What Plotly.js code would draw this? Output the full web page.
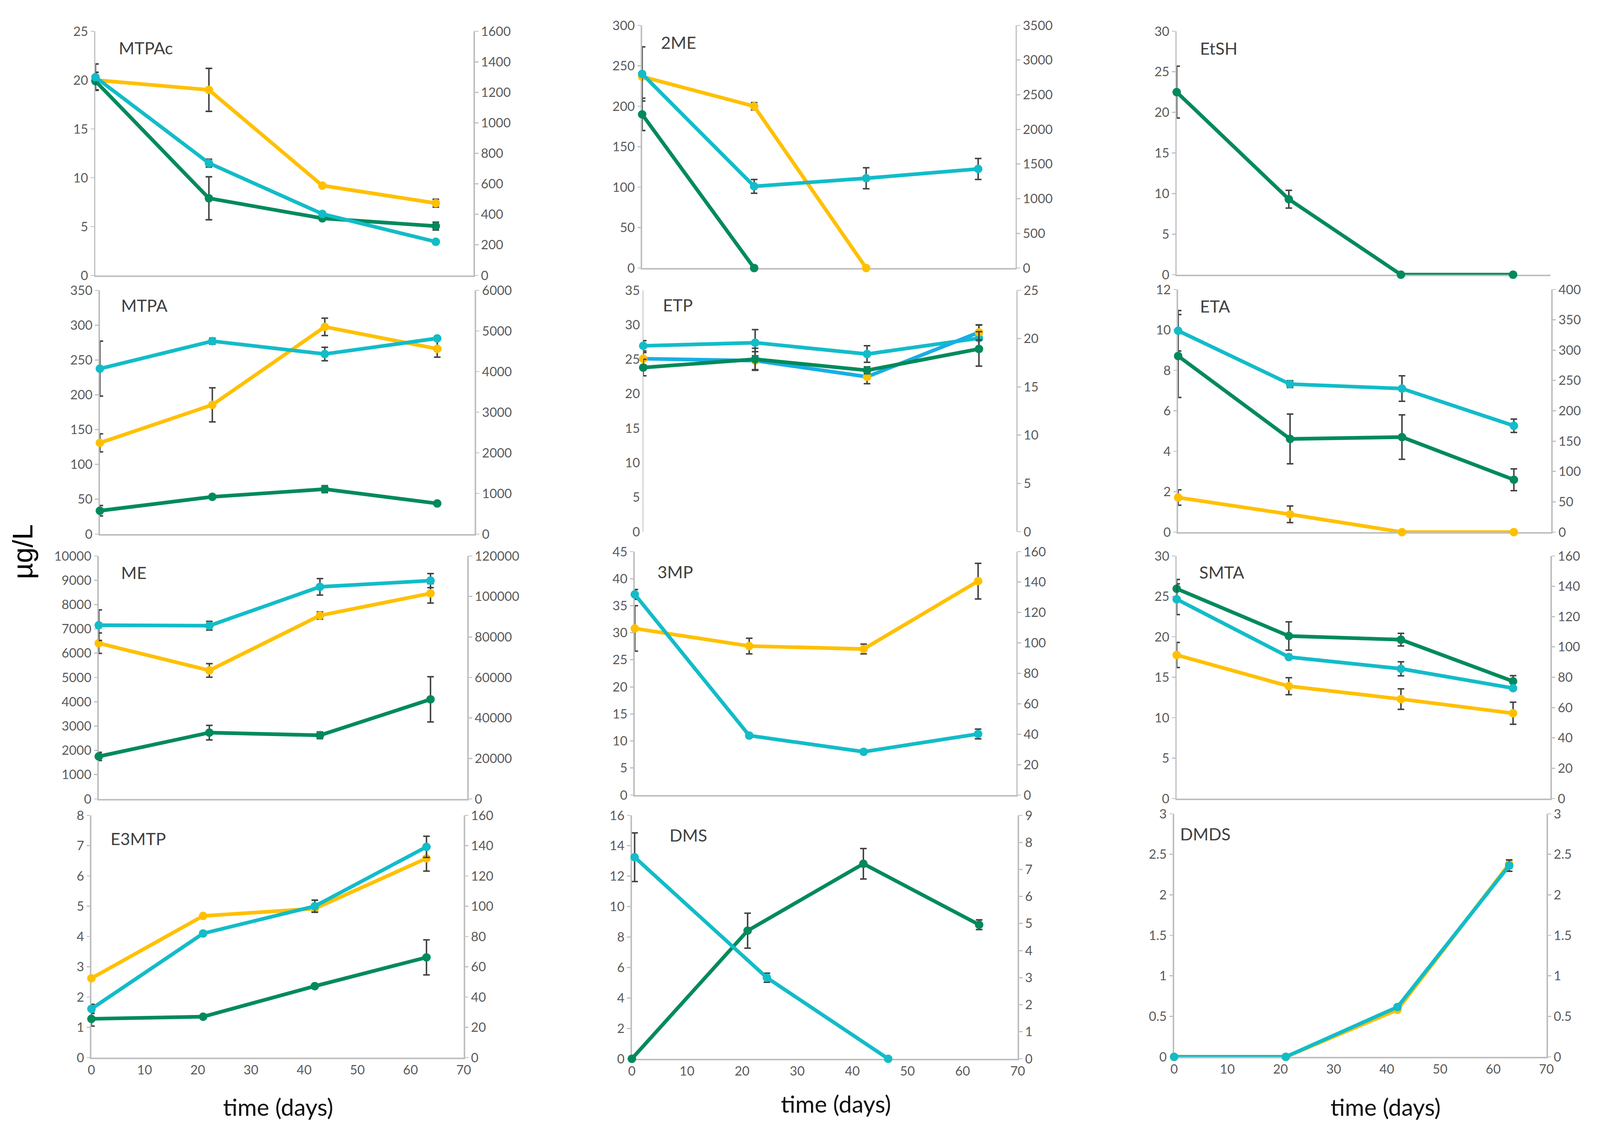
<!DOCTYPE html>
<html><head><meta charset="utf-8">
<script src="https://cdn.plot.ly/plotly-3.0.1.min.js"></script>
<style>html,body{margin:0;padding:0;background:#fff;overflow:hidden}#chart{width:100vw;height:100vh}</style>
</head><body><div id="chart"></div>
<script>
// ---------- DATA ----------
const days = [0, 21, 42, 63];
const days2ME_yellow = [0, 21, 42];
const days2ME_green = [0, 21];
const daysDMS_cyan = [0.5, 24.5, 46.5];
const xTicks = [0, 10, 20, 30, 40, 50, 60, 70];

const MTPAc_yellow = [20.0, 19.0, 9.2, 7.4];      const MTPAc_yellow_err = [0, 2.2, 0, 0.4];
const MTPAc_cyan   = [20.3, 11.5, 6.3, 3.45];     const MTPAc_cyan_err   = [1.35, 0.4, 0, 0];
const MTPAc_green  = [19.9, 7.9, 5.85, 5.05];     const MTPAc_green_err  = [0.9, 2.2, 0, 0.4];

const ME2_yellow = [236.7, 200, 0];               const ME2_yellow_err = [0, 4.5, 0];
const ME2_cyan   = [240, 101, 111, 122.5];        const ME2_cyan_err   = [33.5, 8.5, 13, 13];
const ME2_green  = [190, 0];                      const ME2_green_err  = [20, 0];

const EtSH_green = [22.5, 9.3, 0, 0];             const EtSH_green_err = [3.2, 1.1, 0, 0];

const MTPA_yellow = [131, 185.5, 297.5, 266];     const MTPA_yellow_err = [13, 24.5, 12.5, 12];
const MTPA_cyan   = [237.5, 277, 258.5, 281];     const MTPA_cyan_err   = [39.5, 4.4, 9.7, 0];
const MTPA_green  = [33.5, 53.5, 64.5, 44];       const MTPA_green_err  = [7.5, 0, 5, 0];

const ETP_cyan  = [26.95, 27.4, 25.76, 28.05];    const ETP_cyan_err  = [0.75, 1.9, 1.2, 1.9];
const ETP_blue  = [25.08, 24.8, 22.46, 28.9];     const ETP_blue_err  = [0.9, 1.3, 1.0, 1.1];
const ETP_green = [23.8, 25.0, 23.4, 26.5];       const ETP_green_err = [1.2, 1.6, 0.5, 2.5];

const ETA_cyan   = [9.96, 7.32, 7.1, 5.26];       const ETA_cyan_err   = [1.0, 0.17, 0.63, 0.33];
const ETA_green  = [8.71, 4.61, 4.7, 2.59];       const ETA_green_err  = [2.05, 1.23, 1.1, 0.54];
const ETA_yellow = [1.71, 0.88, 0, 0];            const ETA_yellow_err = [0.38, 0.41, 0, 0];

const ME_cyan   = [7150, 7130, 8730, 8985];       const ME_cyan_err   = [630, 180, 340, 290];
const ME_yellow = [6410, 5290, 7550, 8460];       const ME_yellow_err = [420, 280, 150, 400];
const ME_green  = [1750, 2730, 2620, 4100];       const ME_green_err  = [170, 300, 140, 930];

const MP3_cyan   = [37.1, 11.0, 8.0, 11.3];       const MP3_cyan_err   = [0.9, 0.4, 0.4, 0.9];
const MP3_yellow = [30.8, 27.55, 27.0, 39.55];    const MP3_yellow_err = [4.2, 1.45, 0.9, 3.3];

const SMTA_green  = [25.95, 20.1, 19.65, 14.5];   const SMTA_green_err  = [1.15, 1.75, 0.78, 0.7];
const SMTA_cyan   = [24.65, 17.5, 16.05, 13.65];  const SMTA_cyan_err   = [1.9, 0, 0.87, 0];
const SMTA_yellow = [17.75, 13.9, 12.3, 10.55];   const SMTA_yellow_err = [1.55, 1.05, 1.27, 1.37];

const E3MTP_yellow = [2.62, 4.68, 4.92, 6.58];    const E3MTP_yellow_err = [0, 0, 0.1, 0.42];
const E3MTP_cyan   = [1.61, 4.1, 5.0, 6.96];      const E3MTP_cyan_err   = [0.15, 0, 0.2, 0.35];
const E3MTP_green  = [1.28, 1.35, 2.36, 3.31];    const E3MTP_green_err  = [0.24, 0, 0.07, 0.58];

const DMS_cyan  = [13.25, 5.33, 0];               const DMS_cyan_err  = [1.6, 0.3, 0];
const DMS_green = [0, 8.42, 12.82, 8.81];         const DMS_green_err = [0, 1.15, 1.0, 0.32];

const DMDS_yellow = [0, 0, 0.58, 2.38];           const DMDS_yellow_err = [0, 0, 0, 0.05];
const DMDS_cyan   = [0, 0, 0.615, 2.36];          const DMDS_cyan_err   = [0, 0, 0, 0.07];

const panelNames = ['MTPAc','2ME','EtSH','MTPA','ETP','ETA','ME','3MP','SMTA','E3MTP','DMS','DMDS'];
const leftMax  = [25, 300, 30, 350, 35, 12, 10000, 45, 30, 8, 16, 3];
const leftStep = [5, 50, 5, 50, 5, 2, 1000, 5, 5, 1, 2, 0.5];
const rightMax  = [1600, 3500, null, 6000, 25, 400, 120000, 160, 160, 160, 9, 3];
const rightStep = [200, 500, null, 1000, 5, 50, 20000, 20, 20, 20, 1, 0.5];

// ---------- STYLE / LAYOUT ----------
const YEL = '#FFC000', CYA = '#12BCC8', GRN = '#008A5C', BLU = '#18AEE6';
const AX = '#BFBFBF', TXT = '#595959';
const W0 = 4358, H0 = 2900;
const VW = window.innerWidth || W0, VH = window.innerHeight || H0;
const s = Math.min(VW / W0, VH / H0);
const px = v => v * s;
// plot boxes in reference pixels: [left, right, top(ymax), bottom(y=0)]
const boxes = [
  [260,1290,80,705],[1749,2766,65,686],[3205,4223,80,703],
  [272,1293,743,1367],[1752,2768,743,1361],[3209,4225,741,1362],
  [269,1273,1423,2045],[1729,2768,1412,2035],[3205,4223,1423,2044],
  [249,1263,2087,2707],[1721,2772,2087,2710],[3198,4212,2083,2705]
];
const titlePos = [[321,122],[1798,108],[3266,123],[328,781],[1803,780],[3266,783],
                  [328,1465],[1789,1463],[3264,1464],[299,2146],[1822,2137],[3212,2134]];

function S(x, y, err, color, lineColor) { return {x, y, err, color, lineColor: lineColor || color}; }
const panelSeries = [
  [S(days,MTPAc_yellow,MTPAc_yellow_err,YEL), S(days,MTPAc_green,MTPAc_green_err,GRN), S(days,MTPAc_cyan,MTPAc_cyan_err,CYA)],
  [S(days2ME_yellow,ME2_yellow,ME2_yellow_err,YEL), S(days2ME_green,ME2_green,ME2_green_err,GRN), S(days,ME2_cyan,ME2_cyan_err,CYA)],
  [S(days,EtSH_green,EtSH_green_err,GRN)],
  [S(days,MTPA_yellow,MTPA_yellow_err,YEL), S(days,MTPA_green,MTPA_green_err,GRN), S(days,MTPA_cyan,MTPA_cyan_err,CYA)],
  [S(days,ETP_cyan,ETP_cyan_err,CYA), S(days,ETP_blue,ETP_blue_err,YEL,BLU), S(days,ETP_green,ETP_green_err,GRN)],
  [S(days,ETA_yellow,ETA_yellow_err,YEL), S(days,ETA_green,ETA_green_err,GRN), S(days,ETA_cyan,ETA_cyan_err,CYA)],
  [S(days,ME_yellow,ME_yellow_err,YEL), S(days,ME_green,ME_green_err,GRN), S(days,ME_cyan,ME_cyan_err,CYA)],
  [S(days,MP3_yellow,MP3_yellow_err,YEL), S(days,MP3_cyan,MP3_cyan_err,CYA)],
  [S(days,SMTA_yellow,SMTA_yellow_err,YEL), S(days,SMTA_green,SMTA_green_err,GRN), S(days,SMTA_cyan,SMTA_cyan_err,CYA)],
  [S(days,E3MTP_yellow,E3MTP_yellow_err,YEL), S(days,E3MTP_green,E3MTP_green_err,GRN), S(days,E3MTP_cyan,E3MTP_cyan_err,CYA)],
  [S(days,DMS_green,DMS_green_err,GRN), S(daysDMS_cyan,DMS_cyan,DMS_cyan_err,CYA)],
  [S(days,DMDS_yellow,DMDS_yellow_err,YEL), S(days,DMDS_cyan,DMDS_cyan_err,CYA)]
];

const tickFont = {family:'Lato, "Open Sans", sans-serif', size:px(35), color:TXT};
const traces = [];
const layout = {
  width: VW, height: VH, margin:{l:0,r:0,t:0,b:0},
  paper_bgcolor:'#fff', plot_bgcolor:'rgba(0,0,0,0)', showlegend:false,
  font:{family:'Lato, sans-serif'},
  annotations: []
};
const X = v => v / W0, Y = v => 1 - v / H0;

panelNames.forEach((name, k) => {
  const i = k + 1;
  const xid = i === 1 ? 'x' : 'x' + i;
  const nL = 2*i - 1, nR = 2*i;
  const yL = nL === 1 ? 'y' : 'y' + nL;
  const yR = 'y' + nR;
  const [l, r, t, b] = boxes[k];
  const row = Math.floor(k / 3);

  layout['xaxis' + (i === 1 ? '' : i)] = {
    anchor: yL, domain: [X(l), X(r)], range: [0, 70], tickvals: xTicks,
    showline: name !== 'ETP', linecolor: AX, linewidth: px(4), layer: 'below traces',
    ticks: '', showgrid: false, zeroline: false,
    showticklabels: row === 3, tickfont: tickFont, ticklabelstandoff: px(20), fixedrange: true
  };
  layout['yaxis' + (nL === 1 ? '' : nL)] = {
    anchor: xid, domain: [Y(b), Y(t)], range: [0, leftMax[k]], tick0: 0, dtick: leftStep[k],
    tickformat: leftStep[k] >= 1 ? 'd' : '',
    showline: true, linecolor: AX, linewidth: px(name === 'ETP' ? 2 : 4), layer: 'below traces',
    ticks: name === 'ETP' ? '' : 'outside', ticklen: px(9), tickwidth: px(3), tickcolor: AX,
    showgrid: false, zeroline: false, tickfont: tickFont,
    ticklabelstandoff: px(name === 'ETP' ? 33 : 24), fixedrange: true
  };
  if (rightMax[k] !== null) {
    layout['yaxis' + nR] = {
      overlaying: yL, side: 'right', anchor: xid, range: [0, rightMax[k]], tick0: 0, dtick: rightStep[k],
      tickformat: rightStep[k] >= 1 ? 'd' : '',
      showline: true, linecolor: AX, linewidth: px(4), layer: 'below traces',
      ticks: 'outside', ticklen: px(9), tickwidth: px(3), tickcolor: AX,
      showgrid: false, zeroline: false, tickfont: tickFont, ticklabelstandoff: px(20), fixedrange: true
    };
    traces.push({type:'scatter', mode:'markers', x:[], y:[], xaxis:xid, yaxis:yR, showlegend:false, hoverinfo:'skip'});
  }

  panelSeries[k].forEach(sr => {
    traces.push({
      type: 'scatter', mode: 'lines+markers', x: sr.x, y: sr.y,
      xaxis: xid, yaxis: yL, cliponaxis: false, showlegend: false, hoverinfo: 'skip',
      line: {color: sr.lineColor, width: px(10)},
      marker: {color: sr.color, size: px(23)},
      error_y: {type:'data', array: sr.err.map(v => v > 0 ? v : null), visible: true,
                color: '#404040', thickness: px(4), width: px(9)}
    });
  });

  layout.annotations.push({
    text: name, xref: 'paper', yref: 'paper', showarrow: false,
    x: X(titlePos[k][0]), y: Y(titlePos[k][1]), xanchor: 'left', yanchor: 'middle',
    font: {family: 'Lato, sans-serif', size: px(46), color: '#404040'}
  });
});

layout.annotations.push({
  text: 'µg/L', xref:'paper', yref:'paper', showarrow:false, textangle:-90,
  x: X(62), y: Y(1412), xanchor:'center', yanchor:'middle',
  font:{family:'"Liberation Sans", Arial, sans-serif', size:px(76), color:'#000'}
});
[[758,2833],[2277,2825],[3774,2833]].forEach(p => {
  layout.annotations.push({
    text: 'time (days)', xref:'paper', yref:'paper', showarrow:false,
    x: X(p[0]), y: Y(p[1]), xanchor:'center', yanchor:'middle',
    font:{family:'Lato, sans-serif', size:px(64), color:'#111'}
  });
});

Plotly.newPlot('chart', traces, layout, {staticPlot: true, displayModeBar: false});
</script>
</body></html>
